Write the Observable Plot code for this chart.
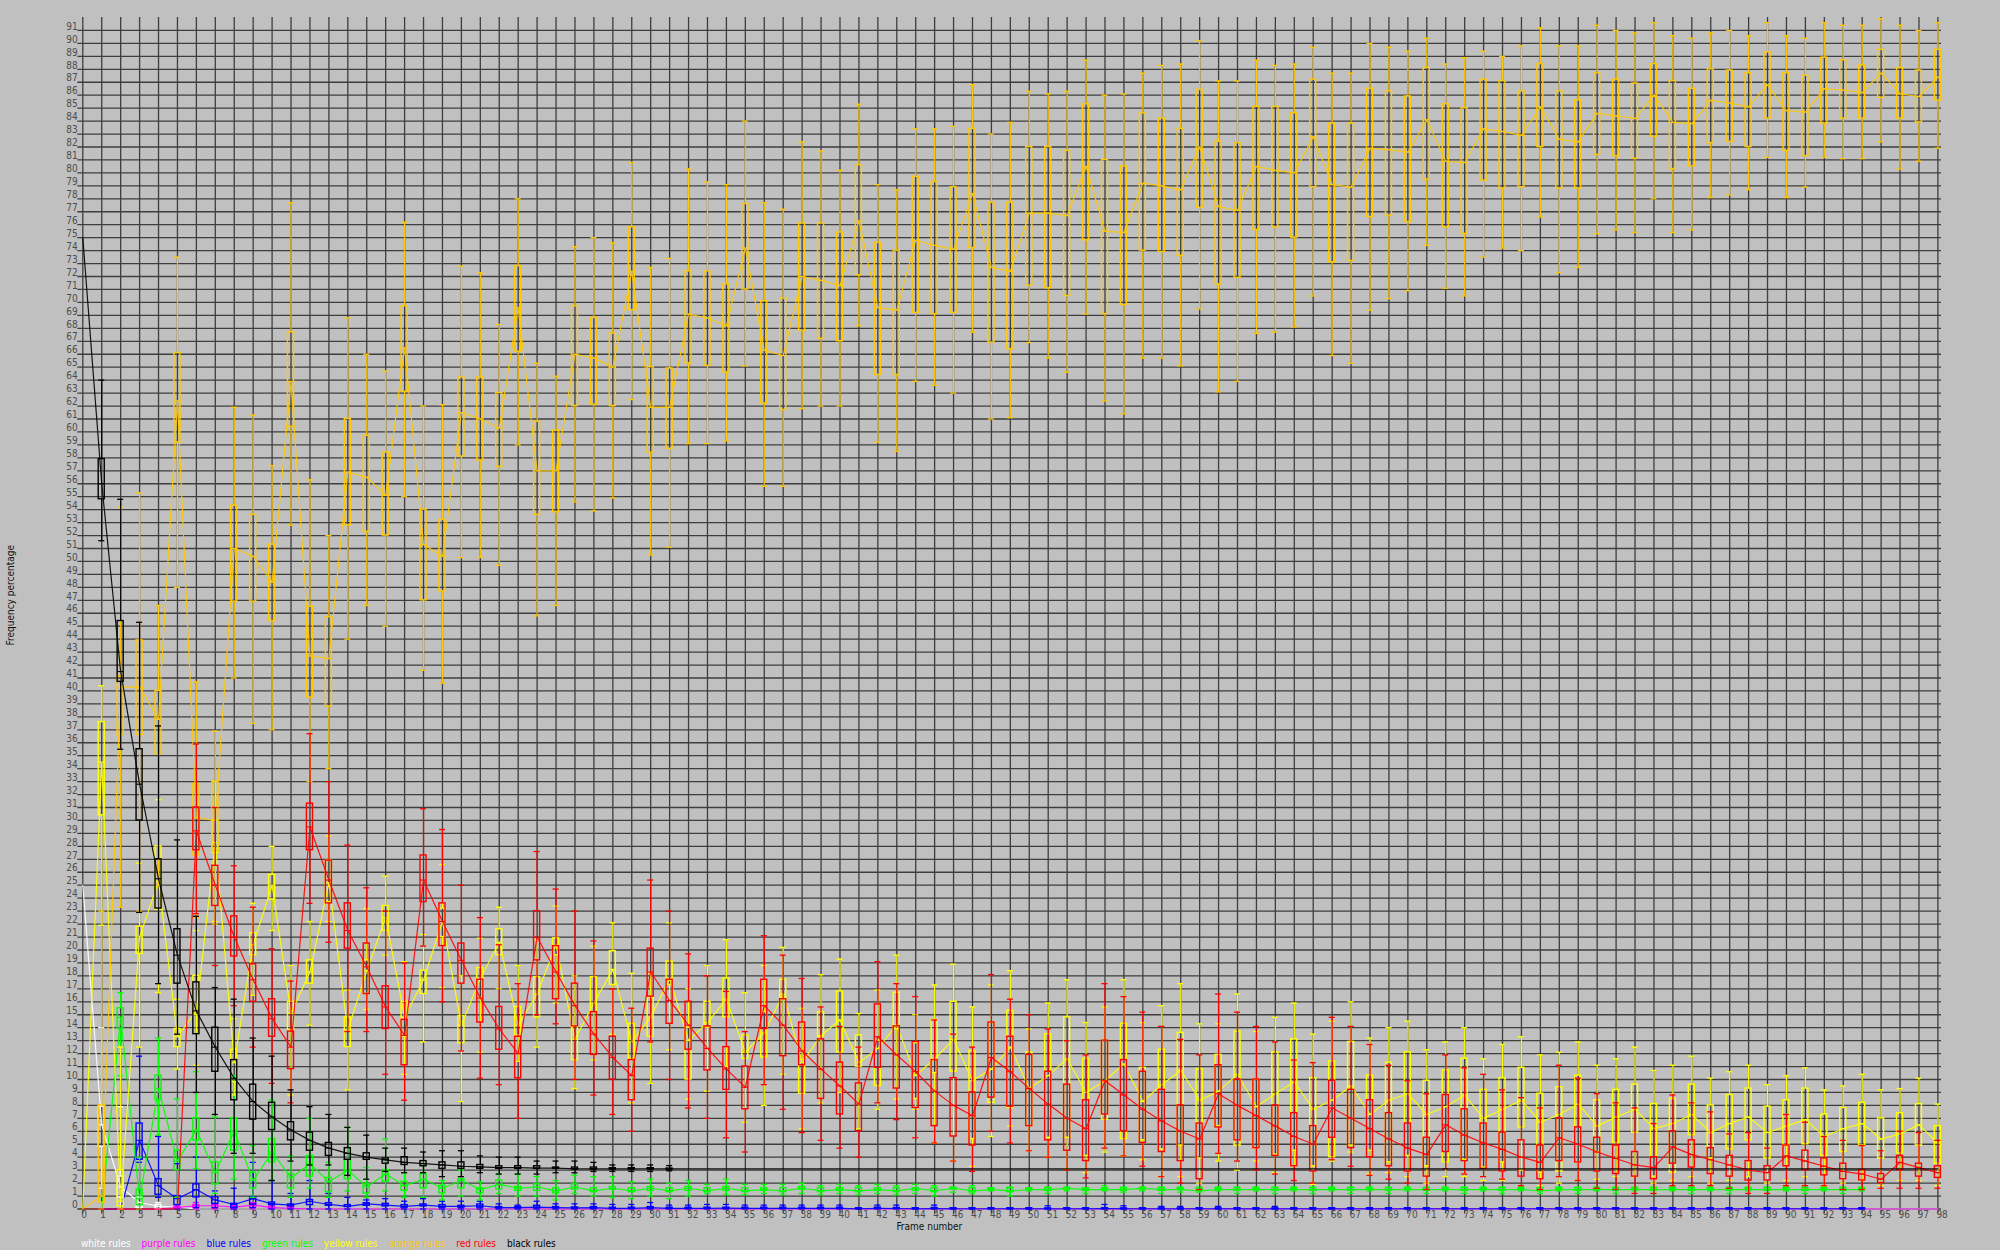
<!DOCTYPE html>
<html><head><meta charset="utf-8">
<script src="https://cdn.jsdelivr.net/npm/d3@7"></script>
<script src="https://cdn.jsdelivr.net/npm/@observablehq/plot@0.6"></script>
<style>
html,body{margin:0;padding:0;background:#c0c0c0;}
#chart{position:relative;width:2000px;height:1250px;overflow:hidden;}
#legend{position:absolute;left:81px;top:1237px;font-family:"DejaVu Sans Condensed","DejaVu Sans",sans-serif;font-stretch:condensed;font-size:10px;white-space:nowrap;line-height:14px;}
#legend span{margin-right:11px;}
</style></head><body><div id="chart"><div id="legend"></div></div>
<script>
const frames = [0,1,2,3,4,5,6,7,8,9,10,11,12,13,14,15,16,17,18,19,20,21,22,23,24,25,26,27,28,29,30,31,32,33,34,35,36,37,38,39,40,41,42,43,44,45,46,47,48,49,50,51,52,53,54,55,56,57,58,59,60,61,62,63,64,65,66,67,68,69,70,71,72,73,74,75,76,77,78,79,80,81,82,83,84,85,86,87,88,89,90,91,92,93,94,95,96,97,98];
const yTicks = [0,1,2,3,4,5,6,7,8,9,10,11,12,13,14,15,16,17,18,19,20,21,22,23,24,25,26,27,28,29,30,31,32,33,34,35,36,37,38,39,40,41,42,43,44,45,46,47,48,49,50,51,52,53,54,55,56,57,58,59,60,61,62,63,64,65,66,67,68,69,70,71,72,73,74,75,76,77,78,79,80,81,82,83,84,85,86,87,88,89,90,91];
const seriesNames = ["white rules","purple rules","blue rules","green rules","yellow rules","orange rules","red rules","black rules"];
const seriesColors = ["#ffffff","#ff00ff","#0000ff","#00ff00","#ffff00","#ffc800","#ff0000","#000000"];
const Z = [0,0,0,0,0];
// rows: [low whisker, q1, middle, q3, high whisker] per frame
const whiteStats = [[25,25,25,25,25],[1.6,4.8,6.5,7.9,14.0],[0,0.9,1.7,2.5,7.9],[0,0.1,0.5,0.9,0.9],[0,0,0.2,0.3,0.5],[0,0,0.15,0.2,0.3],
Z,Z,Z,Z,Z,Z,Z,Z,Z,Z,Z,Z,Z,Z,Z,Z,Z,Z,Z,Z,Z,Z,Z,Z,Z,Z,Z,Z,Z,Z,Z,Z,Z,Z,Z,Z,Z,Z,Z,Z,Z,Z,Z,Z,Z,Z,Z,Z,Z,Z,Z,Z,Z,Z,Z,Z,Z,Z,Z,Z,Z,Z,Z,Z,Z,Z,Z,Z,Z,Z,Z,Z,Z,Z,Z,Z,Z,Z,Z,Z,Z,Z,Z,Z,Z,Z,Z,Z,Z,Z,Z,Z,Z];
const purpleStats = [Z,Z,Z,Z,Z,[0,0,0.1,0.15,0.3],[0,0.1,0.25,0.3,0.5],[0,0.05,0.25,0.3,0.4],[0,0,0.15,0.2,0.3],[0,0.1,0.3,0.35,0.5],[0,0,0.1,0.15,0.3],[0,0,0.05,0.1,0.2],
Z,Z,Z,Z,Z,Z,Z,Z,Z,Z,Z,Z,Z,Z,Z,Z,Z,Z,Z,Z,Z,Z,Z,Z,Z,Z,Z,Z,Z,Z,Z,Z,Z,Z,Z,Z,Z,Z,Z,Z,Z,Z,Z,Z,Z,Z,Z,Z,Z,Z,Z,Z,Z,Z,Z,Z,Z,Z,Z,Z,Z,Z,Z,Z,Z,Z,Z,Z,Z,Z,Z,Z,Z,Z,Z,Z,Z,Z,Z,Z,Z,Z,Z,Z,Z,Z,Z];
const blueStats = [Z,Z,Z,[3.6,3.8,5.3,6.6,11.8],[0.9,1.1,1.8,2.3,5.6],[0,0.3,0.8,1.0,3.5],[0.1,0.9,1.5,1.9,4.0],[0.1,0.4,0.7,0.9,1.4],[0,0.1,0.35,0.4,1.6],[0.1,0.35,0.8,0.9,3.6],
[0,0.3,0.4,0.5,2.2],[0,0.2,0.3,0.35,1.2],[0,0.3,0.6,0.7,2.2],[0,0.25,0.35,0.45,1.2],[0,0.15,0.2,0.3,0.9],[0,0.25,0.4,0.45,0.7],[0,0.2,0.3,0.4,0.8],[0,0.1,0.2,0.3,0.6],[0,0.2,0.3,0.35,0.8],[0,0.1,0.2,0.3,0.6],
[0,0.1,0.2,0.25,0.6],[0,0.1,0.25,0.35,0.6],[0,0.05,0.1,0.15,0.4],[0,0.05,0.1,0.15,0.3],[0,0.05,0.15,0.25,0.6],[0,0.05,0.1,0.15,0.4],[0,0.03,0.08,0.12,0.4],[0,0.03,0.1,0.15,0.4],[0,0.02,0.05,0.1,0.35],[0,0.02,0.05,0.1,0.35],
[0,0.03,0.1,0.15,0.5],[0,0.02,0.05,0.1,0.3],[0,0.02,0.05,0.1,0.3],[0,0.02,0.05,0.1,0.35],[0,0.02,0.06,0.1,0.35],[0,0.02,0.05,0.1,0.3],[0,0.02,0.05,0.1,0.3],[0,0.02,0.05,0.1,0.3],[0,0.02,0.05,0.1,0.3],[0,0.02,0.05,0.1,0.3],
[0,0.02,0.05,0.1,0.3],[0,0,0.02,0.05,0.1],[0,0.02,0.05,0.1,0.3],[0,0.02,0.04,0.08,0.3],[0,0,0.02,0.05,0.1],[0,0.02,0.04,0.08,0.3],[0,0,0.02,0.05,0.1],[0,0,0.02,0.05,0.1],[0,0,0.02,0.05,0.1],[0,0,0.02,0.05,0.1],
[0,0,0.02,0.05,0.1],[0,0,0.02,0.05,0.25],[0,0,0.02,0.05,0.1],[0,0,0.02,0.05,0.1],[0,0,0.03,0.06,0.35],[0,0,0.02,0.05,0.25],[0,0,0.02,0.05,0.1],[0,0,0.02,0.05,0.2],[0,0,0.02,0.05,0.2],[0,0,0.02,0.05,0.1],
[0,0,0.02,0.05,0.2],[0,0,0.02,0.05,0.1],[0,0,0.02,0.05,0.1],[0,0,0.02,0.05,0.2],[0,0,0.02,0.05,0.1],[0,0,0.02,0.05,0.1],[0,0,0.02,0.05,0.1],[0,0,0.02,0.05,0.1],[0,0,0.02,0.05,0.1],[0,0,0.02,0.05,0.1],
[0,0,0.02,0.05,0.1],[0,0,0.02,0.05,0.1],[0,0,0.02,0.05,0.1],[0,0,0.02,0.05,0.1],[0,0,0.02,0.05,0.1],[0,0,0.02,0.05,0.1],[0,0,0.02,0.05,0.1],[0,0,0.02,0.05,0.1],[0,0,0.02,0.05,0.1],[0,0,0.02,0.05,0.1],
[0,0,0.02,0.05,0.1],[0,0,0.02,0.05,0.1],[0,0,0.02,0.05,0.1],[0,0,0.02,0.05,0.1],[0,0,0.02,0.05,0.1],[0,0,0.02,0.05,0.1],[0,0,0.02,0.05,0.1],[0,0,0.02,0.05,0.1],[0,0,0.02,0.05,0.1],[0,0,0.02,0.05,0.1],
[0,0,0.02,0.05,0.1],[0,0,0.02,0.05,0.1],[0,0,0.02,0.05,0.1],[0,0,0.02,0.05,0.1],[0,0,0.02,0.05,0.1]];
const greenStats = [Z,Z,[10.3,13.9,14.8,15.5,16.7],[0,0.3,0.8,1.5,4.0],[5.7,8.4,9.3,10.3,13.2],[0.9,3.0,3.7,4.5,8.5],[3.1,5.3,6.1,7.0,10.6],[1.2,1.9,2.8,3.6,7.1],[2.3,4.5,6.0,7.0,10.3],[0.9,1.6,2.2,2.8,4.9],
[2.2,3.6,4.4,5.4,8.4],[0.9,1.6,2.4,2.7,4.1],[1.6,2.5,3.5,4.1,7.0],[0.9,1.3,2.1,2.4,3.6],[1.4,2.3,3.0,3.8,6.3],[0.9,1.2,1.7,1.9,3.2],[1.4,2.1,2.7,3.0,5.4],[0.9,1.4,1.8,2.1,2.8],[0.9,1.6,2.3,2.7,3.5],[0.7,1.2,1.6,1.8,2.2],
[1.0,1.6,2.2,2.3,3.0],[0.7,1.2,1.5,1.6,2.1],[1.2,1.5,1.9,2.2,2.7],[1.0,1.4,1.6,1.7,2.7],[1.0,1.4,1.7,1.9,2.5],[0.7,1.2,1.4,1.6,2.2],[1.2,1.5,1.7,1.9,2.6],[1.0,1.3,1.4,1.6,2.5],[0.9,1.5,1.6,1.7,2.5],[0.8,1.3,1.4,1.6,2.1],
[1.0,1.4,1.6,1.7,2.3],[0.8,1.3,1.4,1.6,2.0],[1.0,1.4,1.6,1.7,2.2],[1.2,1.3,1.4,1.6,1.9],[1.1,1.4,1.6,1.7,2.3],[1.1,1.3,1.4,1.6,1.9],[1.2,1.4,1.5,1.6,1.9],[1.1,1.3,1.4,1.6,1.9],[1.2,1.5,1.6,1.7,2.0],[1.1,1.3,1.4,1.6,1.8],
[1.2,1.4,1.5,1.6,1.9],[1.1,1.3,1.4,1.6,1.8],[1.2,1.4,1.5,1.6,1.9],[1.1,1.3,1.4,1.6,1.8],[1.2,1.4,1.6,1.6,1.9],[1.0,1.3,1.4,1.6,1.8],[1.3,1.5,1.6,1.6,1.7],[1.2,1.3,1.4,1.6,1.8],[1.4,1.5,1.5,1.6,1.6],[1.0,1.3,1.4,1.6,1.7],
[1.4,1.5,1.5,1.6,1.6],[1.2,1.4,1.5,1.6,1.7],[1.4,1.5,1.6,1.6,1.7],[1.2,1.4,1.5,1.6,1.6],[1.4,1.5,1.5,1.6,1.8],[1.3,1.4,1.5,1.6,1.7],[1.4,1.5,1.6,1.6,1.7],[1.2,1.4,1.5,1.6,1.7],[1.3,1.5,1.5,1.6,1.7],[1.3,1.4,1.4,1.6,1.7],
[1.4,1.5,1.5,1.6,1.7],[1.2,1.4,1.5,1.6,1.7],[1.4,1.5,1.5,1.6,1.7],[1.2,1.4,1.5,1.6,1.7],[1.4,1.5,1.5,1.6,1.7],[1.2,1.4,1.5,1.6,1.7],[1.4,1.5,1.5,1.6,1.7],[1.2,1.4,1.5,1.6,1.7],[1.4,1.5,1.5,1.6,1.7],[1.2,1.4,1.5,1.6,1.7],
[1.4,1.5,1.5,1.6,1.7],[1.2,1.4,1.5,1.6,1.7],[1.4,1.5,1.5,1.6,1.7],[1.2,1.4,1.5,1.6,1.7],[1.4,1.5,1.5,1.6,1.7],[1.2,1.4,1.5,1.6,1.7],[1.4,1.5,1.5,1.6,1.7],[1.2,1.4,1.4,1.6,1.7],[1.4,1.5,1.5,1.6,1.7],[1.2,1.4,1.5,1.6,1.7],
[1.4,1.5,1.5,1.6,1.7],[1.2,1.4,1.5,1.6,1.7],[1.4,1.5,1.5,1.6,1.7],[1.2,1.4,1.5,1.6,1.7],[1.4,1.5,1.5,1.6,1.7],[1.2,1.4,1.5,1.6,1.7],[1.4,1.5,1.5,1.6,1.7],[1.2,1.4,1.5,1.6,1.7],[1.4,1.5,1.5,1.6,1.7],[1.2,1.4,1.5,1.6,1.7],
[1.4,1.5,1.5,1.6,1.7],[1.2,1.4,1.5,1.6,1.7],[1.4,1.5,1.5,1.6,1.7],[1.2,1.4,1.5,1.6,1.7],[1.4,1.5,1.5,1.6,1.7]];
const yellowStats = [Z,[21.9,30.4,34.5,37.6,40.4],[0,0.2,0.6,3,12.5],[12.5,19.7,21.0,21.8,26.7],[16.7,23.1,25.3,28.0,31.6],[10.8,12.5,13.3,13.9,16.2],[11.1,15.0,15.3,18.0,21.5],[22.2,27.5,28.3,30.0,33.0],[8.8,9.8,11.3,12.3,14.7],[16.5,19.6,20.4,21.3,23.6],
[21.5,23.9,25.0,25.8,28.0],[8.8,13.8,15.1,16.0,18.8],[14.2,17.4,18.3,19.2,22.2],[22.2,23.7,25.2,26.9,28.8],[9.2,12.5,13.8,14.8,16.9],[15.4,16.6,18.4,19.2,23.2],[19.6,21.5,22.5,23.4,25.7],[10.4,13.3,14.8,16.0,19.1],[12.9,16.6,17.7,18.4,21.2],[17.1,21.0,22.2,23.2,26.6],
[8.3,12.8,14.2,14.9,18.0],[12.1,16.3,17.8,18.6,20.9],[17.0,19.6,20.6,21.6,23.3],[11.4,13.4,14.2,15.6,18.8],[12.5,14.8,16.6,17.9,20.8],[15.9,19.6,20.4,20.9,23.4],[9.3,11.5,13.1,14.1,18.0],[11.5,15.2,15.9,17.9,20.3],[13.5,17.3,18.5,19.9,22.1],[8.2,11.6,12.9,14.3,18.2],
[9.7,13.3,14.8,16.3,18.2],[12.3,17.3,17.8,19.1,22.1],[8.5,10.0,13.0,14.0,17.0],[9.1,14.0,14.4,16.0,18.8],[11.0,14.8,16.2,17.8,20.8],[6.7,11.6,12.1,13.4,16.7],[8.0,11.7,13.6,15.2,18.8],[10.4,16.3,16.6,17.7,20.2],[6.2,8.9,11.3,11.5,15.5],[8.2,13.3,13.4,15.2,18.1],
[9.0,12.1,14.6,16.8,19.3],[6.2,11.0,11.3,13.4,15.1],[7.7,9.5,12.4,13.0,16.9],[8.5,13.9,14.2,16.7,19.6],[7.7,8.5,10.3,12.8,15.0],[5.1,10.5,11.6,14.6,17.3],[3.7,10.6,13.1,16.0,18.9],[3.3,5.4,9.9,12.2,15.6],[5.6,8.2,10.8,14.4,17.3],[6.4,7.8,12.5,15.3,18.4],
[4.5,6.4,9.3,12.1,13.9],[4.0,5.5,10.3,13.5,15.9],[3.1,5.5,11.6,14.8,17.7],[2.8,4.1,9.0,11.6,14.4],[4.4,6.9,9.9,13.0,15.6],[4.1,5.4,11.2,14.3,17.7],[3.8,5.3,8.3,10.9,14.4],[2.5,4.6,9.6,12.3,15.7],[2.5,4.9,10.7,13.6,17.4],[2.0,3.9,8.4,10.8,14.3],
[3.7,6.4,9.1,11.9,14.3],[3.0,4.9,10.4,13.7,16.6],[3.7,4.7,7.9,10.0,13.7],[2.8,4.2,8.9,12.1,14.8],[3.3,4.5,9.8,13.1,15.9],[1.9,3.3,7.7,10.1,13.5],[3.7,4.0,8.4,11.4,14.5],[4.4,4.9,9.5,12.9,16.0],[2.7,4.5,7.3,10.3,13.2],[2.8,3.6,8.4,11.3,14.0],
[2.5,4.1,8.9,12.1,14.5],[2.0,3.3,7.3,9.9,12.3],[2.5,3.6,7.9,10.7,12.9],[2.5,3.8,8.8,11.6,14.0],[2.2,3.2,7.0,9.2,11.6],[2.2,3.6,7.7,10.1,12.7],[3.0,6.3,8.4,10.9,13.3],[1.8,2.8,6.7,8.9,11.9],[2.0,2.9,7.3,9.4,12.1],[2.2,3.6,8.1,10.3,12.9],
[2.3,4.4,6.4,8.4,11.1],[2.5,5.1,7.1,9.2,11.6],[2.5,5.9,7.7,9.6,12.5],[2.0,2.5,6.2,8.1,10.7],[2.2,2.8,6.6,8.5,11.1],[2.5,5.7,7.3,9.6,11.8],[2.0,3.9,5.9,8.0,10.1],[2.2,4.6,6.6,8.8,10.6],[2.5,5.3,7.1,9.3,11.1],[2.0,3.9,5.9,7.9,9.6],
[2.2,4.9,6.4,8.4,10.3],[2.5,5.0,6.9,9.3,10.9],[1.8,4.1,5.6,7.3,9.2],[2.0,4.4,6.2,7.8,9.5],[2.2,4.9,6.6,8.2,10.4],[1.8,3.9,5.4,7.0,9.2],[2.2,4.3,5.8,7.4,9.3],[2.2,4.9,6.5,8.1,10.1],[1.8,3.5,5.1,6.4,8.1]];
const orangeStats = [Z,[0,0.5,1,8,23],[23.3,36.6,40.3,41.1,54.2],[23,36.6,40.3,43.9,55.3],[25,35.1,37.8,40.0,46.6],[48.0,59.2,62.4,66.1,73.5],[22.5,27.3,30.2,32.8,40.7],[22.0,27.6,30.0,33.0,36.9],[41,46.9,51.0,54.3,61.9],[37.5,46.9,50.4,53.6,61.3],
[37.0,45.4,48.4,51.3,57.4],[52.8,60.4,63.9,67.7,77.7],[33.0,39.5,42.7,46.5,56.3],[34,38.8,42.5,45.7,52.0],[44.0,52.8,56.9,61.0,68.8],[46.6,52.3,56.5,59.7,66.0],[45.0,52.0,55.1,58.4,64.7],[55.0,63.1,66.5,69.7,76.2],[41.6,47.0,51.3,54.0,62.0],[40.6,47.7,50.4,53.2,62.1],
[50.3,58.1,61.5,64.2,72.8],[50.3,57.8,61.0,64.2,72.3],[49.7,57.3,60.3,63.0,68.3],[59.0,66.2,69.6,72.8,78.0],[45.8,53.6,57.0,60.8,65.3],[46.6,53.8,57.0,60.1,64.3],[54.6,62.0,66.0,69.7,74.3],[53.9,62.1,65.7,68.8,75.0],[54.9,62.0,65.0,67.6,74.6],[62.5,69.4,72.4,75.8,80.8],
[50.5,58.4,61.9,65.0,72.7],[51.1,58.7,61.9,64.9,73.4],[59.1,65.3,69.1,72.4,80.3],[59.1,65.1,68.8,72.4,79.3],[59.3,64.6,68.2,71.4,79.1],[65.1,71.0,74.2,77.6,84.0],[55.8,62.2,66.3,70.1,77.7],[55.8,61.7,65.9,70.3,77.2],[61.8,67.8,72.0,76.1,82.4],[62.0,67.2,71.7,76.1,81.7],
[62.0,67.0,71.3,75.4,80.2],[68.2,72.1,76.3,80.6,85.3],[59.2,64.4,69.6,74.6,79.1],[58.5,64.4,69.4,74.0,78.7],[63.9,69.2,74.8,79.7,83.4],[63.6,69.1,74.4,79.3,83.4],[63.0,69.2,74.1,78.9,83.6],[67.7,74.2,78.4,83.4,86.8],[61.0,66.9,72.7,77.7,83.0],[61.1,66.4,72.4,77.7,83.9],
[66.9,71.3,76.9,82.0,86.3],[65.7,71.1,76.9,82.0,86.1],[64.6,70.5,76.7,81.7,86.3],[69.1,74.8,80.5,85.3,88.7],[62.4,69.1,75.5,81.0,86.0],[61.4,69.8,75.4,80.5,86.1],[65.7,74.0,79.2,84.6,87.7],[65.7,73.9,79.0,84.2,88.3],[65.1,73.6,78.7,83.4,88.4],[69.5,77.3,82.0,86.4,90.2],
[63.1,71.4,77.4,82.4,87.1],[63.9,71.9,77.1,82.3,87.1],[67.6,75.6,80.5,85.1,88.7],[67.7,75.8,80.2,85.1,88.3],[68.1,75.0,80.0,84.6,88.4],[70.5,78.9,82.8,87.2,89.7],[65.9,73.1,79.1,83.8,87.7],[65.3,73.2,78.9,83.8,87.7],[69.4,76.6,81.9,86.5,90.0],[70.3,76.7,81.8,86.3,89.7],
[70.9,76.2,81.6,85.9,89.4],[74.4,79.5,84.1,88.1,90.4],[71.1,75.8,80.9,85.3,88.4],[70.5,75.3,80.8,85.0,88.9],[73.5,79.4,83.4,87.2,89.4],[74.2,78.8,83.2,87.1,89.0],[74.0,78.9,82.9,86.3,89.8],[76.6,82.0,85.1,88.4,91.2],[72.3,78.8,82.6,86.3,89.8],[72.7,78.8,82.4,85.6,89.8],
[75.3,81.4,84.6,87.7,91.4],[75.6,81.3,84.4,87.2,91.0],[75.4,81.1,84.2,86.9,90.8],[78.0,82.8,86.0,88.4,91.6],[75.4,80.3,83.9,87.1,90.6],[75.6,80.5,83.8,86.5,90.4],[78.1,82.3,85.6,88.0,90.8],[78.3,82.4,85.4,87.9,91.0],[78.7,82.0,85.1,87.7,90.6],[81.2,84.2,86.8,89.3,91.6],
[78.1,81.7,84.8,87.7,90.6],[78.9,81.3,84.7,87.5,90.4],[81.2,83.8,86.5,88.9,91.6],[81.1,84.2,86.4,88.7,91.4],[81.1,84.2,86.2,88.3,91.4],[82.4,85.8,87.7,89.5,91.9],[80.3,84.2,86.1,88.1,91.4],[80.9,83.9,85.9,87.9,91.0],[81.9,85.6,87.4,89.5,91.6]];
const redStats = [Z,Z,Z,Z,Z,Z,[22.8,27.7,29.2,31.0,35.9],[18.8,23.4,25.0,26.5,31.0],[15.7,19.5,21.0,22.6,26.5],[12.5,16.0,17.7,18.9,23.3],
[9.7,13.3,14.7,16.2,20.1],[8.2,10.8,12.5,13.7,17.6],[23.6,27.7,29.5,31.3,36.7],[20.6,23.6,25.4,26.9,33.0],[13.7,20.1,21.5,23.6,28.1],[13.7,16.6,18.7,20.5,24.8],[10.4,13.9,15.6,17.2,23.0],[8.4,11.1,13.4,14.6,19.0],[20.3,23.7,25.4,27.3,30.9],[16.0,20.3,22.2,23.6,29.3],
[12.2,17.4,19.2,20.5,25.0],[10.1,14.4,16.3,17.7,22.5],[9.6,12.3,13.9,15.6,20.4],[7.0,10.1,12.0,13.3,17.4],[15.0,19.2,21.0,23.0,27.6],[14.3,16.2,18.3,20.3,24.7],[10.0,14.1,15.7,17.4,23.0],[8.8,11.9,13.5,15.2,20.7],[7.3,10.0,11.7,13.3,17.0],[6.0,8.4,10.3,11.5,15.5],
[12.9,16.4,18.3,20.1,25.4],[10.0,14.3,16.1,17.7,23.0],[7.8,12.3,14.2,16.0,19.7],[7.0,10.7,12.4,14.1,18.0],[5.5,9.2,10.8,12.5,16.8],[4.4,7.7,9.4,11.0,13.7],[9.6,13.9,15.7,17.7,21.1],[7.7,11.8,14.2,16.2,19.6],[5.9,11.1,12.2,14.4,17.8],[5.3,8.5,10.8,13.1,15.6],
[4.7,7.3,9.5,11.3,14.1],[4.0,6.0,8.1,9.7,12.5],[8.2,10.9,13.3,15.8,19.1],[6.9,9.3,11.9,14.1,17.4],[5.5,7.8,10.6,12.9,16.4],[5.1,6.4,9.1,11.5,14.6],[3.7,5.6,8.0,10.1,13.5],[2.9,4.9,7.2,9.0,12.5],[6.0,8.6,11.7,14.4,18.1],[5.1,7.9,10.6,13.3,16.2],
[4.5,6.4,9.3,11.9,15.0],[4.0,5.3,8.1,10.6,13.9],[3.0,4.5,7.0,9.6,13.0],[2.4,3.7,6.2,8.4,11.9],[4.7,7.3,9.9,13.0,17.4],[4.1,6.0,8.8,11.5,16.4],[3.3,5.1,7.7,10.6,15.2],[2.5,4.4,6.8,9.2,14.1],[2.0,3.7,6.0,8.0,13.1],[1.5,2.3,5.4,6.6,11.9],
[4.3,6.3,8.9,11.1,16.6],[3.7,5.3,8.0,10.0,15.2],[3.0,4.7,7.2,10.0,14.1],[2.7,4.1,6.4,8.0,12.9],[2.2,3.3,5.6,7.4,11.5],[2.0,2.9,5.0,6.4,11.3],[3.8,5.5,7.8,9.9,14.8],[3.3,4.7,7.0,9.2,14.1],[2.6,4.0,6.2,8.4,12.7],[2.3,3.3,5.4,7.4,11.1],
[2.0,2.9,4.7,6.6,9.9],[1.5,2.5,4.2,5.5,8.9],[3.1,4.4,6.5,8.8,11.9],[2.7,3.7,5.7,7.7,10.9],[2.5,3.1,5.1,6.6,10.4],[2.3,2.9,4.6,5.9,9.2],[1.8,2.5,4.0,5.3,8.6],[1.5,2.3,3.6,4.9,7.8],[2.5,3.7,5.5,7.0,11.1],[2.2,3.6,5.0,6.3,10.1],
[1.6,2.9,4.4,5.5,8.9],[1.5,2.7,3.9,4.9,8.2],[1.2,2.5,3.4,4.4,7.8],[1.2,2.3,3.2,4.0,6.6],[1.8,3.5,4.8,6.0,8.8],[1.8,3.2,4.2,5.3,8.2],[1.8,2.7,3.8,4.7,7.5],[1.6,2.5,3.4,4.1,5.8],[1.2,2.2,3.0,3.7,5.9],[1.2,2.2,2.8,3.3,4.7],
[1.8,3.3,4.1,4.9,7.3],[1.8,3.0,3.7,4.5,6.7],[1.8,2.6,3.3,3.9,5.6],[1.5,2.3,2.9,3.5,5.3],[1.5,2.2,2.7,3.0,4.9],[1.6,2.0,2.3,2.7,4.5],[1.6,3.0,3.6,4.1,6.0],[1.6,2.5,3.2,3.5,5.9],[1.6,2.4,2.8,3.3,5.3]];
const B = [3.1,3.1,3.1,3.1,3.1];
const blackStats = [[75,75,75,75,75],[51.6,54.8,56.0,57.9,64.0],[35.5,40.7,41.5,45.4,54.8],[22.9,30.0,32.8,35.5,45.3],[17.4,23.2,25.5,27.0,37.3],[13.5,17.4,19.6,21.6,28.5],[9.0,13.5,15.3,17.5,22.6],[7.3,10.6,12.5,14.0,17.1],[4.3,8.4,10.1,11.5,16.2],[4.3,6.9,8.3,9.6,13.2],
[2.2,6.1,7.1,8.2,11.8],[3.7,5.3,6.1,6.7,9.2],[3.4,4.5,5.3,5.9,7.9],[3.4,4.1,4.7,5.1,7.3],[2.6,3.8,4.3,4.7,6.3],[2.3,3.8,4.0,4.3,5.7],[2.9,3.5,3.8,3.9,4.7],[2.8,3.4,3.6,4.0,4.7],[2.8,3.3,3.5,3.7,4.4],[2.5,3.1,3.4,3.6,4.5],
[2.5,3.1,3.3,3.6,4.5],[2.8,3.1,3.25,3.4,4.1],[2.7,3.1,3.2,3.3,4.0],[2.7,3.1,3.2,3.3,4.0],[2.7,3.1,3.15,3.3,3.7],[2.8,3.1,3.15,3.2,3.7],[2.8,3.05,3.1,3.2,3.7],[2.9,3.05,3.1,3.2,3.6],[2.9,3.05,3.1,3.15,3.4],[2.9,3.05,3.1,3.15,3.4],
[2.9,3.05,3.1,3.15,3.4],[2.95,3.05,3.1,3.12,3.35],
B,B,B,B,B,B,B,B,B,B,B,B,B,B,B,B,B,B,B,B,B,B,B,B,B,B,B,B,B,B,B,B,B,B,B,B,B,B,B,B,B,B,B,B,B,B,B,B,B,B,B,B,B,B,B,B,B,B,B,B,B,B,B,B,B,B,B];
const allStats = [whiteStats, purpleStats, blueStats, greenStats, yellowStats, orangeStats, redStats, blackStats];

const font = '"DejaVu Sans Condensed","DejaVu Sans",sans-serif';
const hw = 0.16;
const rows = st => st.map((s, i) => ({f: frames[i], lo: s[0], q1: s[1], mid: s[2], q3: s[3], hi: s[4]}));

const marks = [
  Plot.ruleX(frames, {x: d => d, stroke: "#3e3e3e", strokeWidth: 1.3, insetBottom: -5}),
  Plot.ruleY(yTicks, {y: d => d, stroke: "#3e3e3e", strokeWidth: 1.3, insetLeft: -5, insetRight: -3.6}),
  Plot.text(yTicks, {y: d => d, text: d => String(d), frameAnchor: "left", dx: -5, dy: -4, textAnchor: "end", fill: "#4d4d4d", fontSize: 10, fontFamily: font}),
  Plot.text(frames, {x: d => d, text: d => String(d), frameAnchor: "bottom", dx: -1.5, dy: 9, textAnchor: "start", fill: "#4d4d4d", fontSize: 10, fontFamily: font}),
  Plot.text(["Frequency percentage"], {text: d => d, frameAnchor: "left", dx: -72, dy: -18, rotate: -90, textAnchor: "middle", fill: "#111", fontSize: 10, fontFamily: font}),
  Plot.text(["Frame number"], {text: d => d, frameAnchor: "bottom", dx: -81, dy: 20.5, textAnchor: "middle", fill: "#111", fontSize: 10, fontFamily: font})
];

allStats.forEach((st, k) => {
  const c = seriesColors[k];
  const d = rows(st);
  const spread = d.filter(r => r.hi > r.lo);
  const boxed = d.filter(r => r.q3 > r.q1);
  marks.push(
    Plot.ruleX(d.filter(r => r.q1 > r.lo), {x: "f", y1: "lo", y2: "q1", stroke: c, strokeWidth: 1.2}),
    Plot.ruleX(d.filter(r => r.hi > r.q3), {x: "f", y1: "q3", y2: "hi", stroke: c, strokeWidth: 1.2}),
    Plot.ruleY(spread, {y: "lo", x1: r => r.f - hw, x2: r => r.f + hw, stroke: c, strokeWidth: 1.3}),
    Plot.ruleY(spread, {y: "hi", x1: r => r.f - hw, x2: r => r.f + hw, stroke: c, strokeWidth: 1.3}),
    Plot.rect(boxed, {x1: r => r.f - hw, x2: r => r.f + hw, y1: "q1", y2: "q3", fill: "none", stroke: c, strokeWidth: 1.4}),
    Plot.ruleY(boxed, {y: "mid", x1: r => r.f - hw, x2: r => r.f + hw, stroke: c, strokeWidth: 1.1}),
    Plot.line(d, {x: "f", y: "mid", stroke: c, strokeWidth: 1.2, strokeOpacity: 0.9})
  );
});

const chart = Plot.plot({
  width: 2000,
  height: 1236,
  marginLeft: 82.3,
  marginRight: 62.6,
  marginTop: 17,
  marginBottom: 27.5,
  x: {type: "linear", domain: [0, 98], axis: null},
  y: {type: "linear", domain: [0, 92], axis: null},
  style: {background: "#c0c0c0", fontFamily: font, fontStretch: "condensed", overflow: "visible"},
  marks
});
const holder = document.getElementById("chart");
holder.insertBefore(chart, holder.firstChild);

const legend = document.getElementById("legend");
seriesNames.forEach((n, i) => {
  const s = document.createElement("span");
  s.textContent = n;
  s.style.color = seriesColors[i];
  legend.appendChild(s);
});
</script>
</body></html>
